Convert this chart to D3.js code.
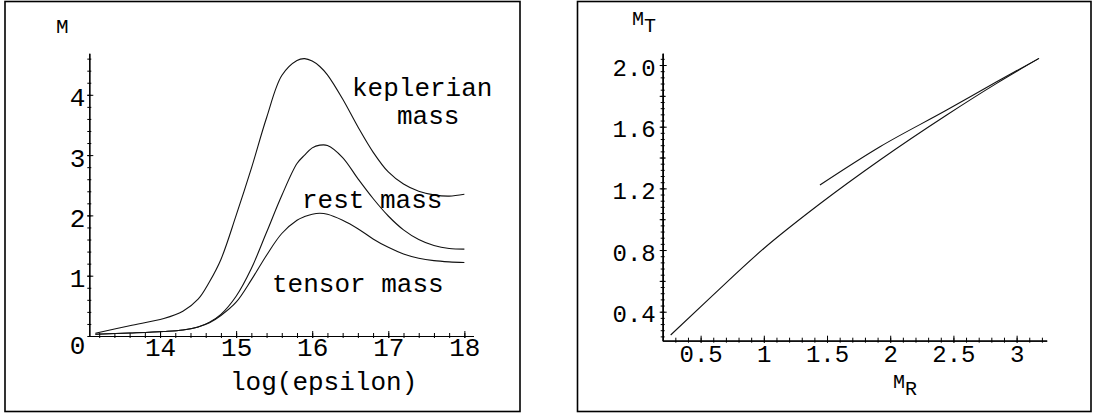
<!DOCTYPE html>
<html>
<head>
<meta charset="utf-8">
<script src="https://cdn.jsdelivr.net/npm/d3@7"></script>
<style>
body { margin: 0; background: #fff; }
text { font-family: "Liberation Mono", "Courier New", monospace; fill: #000; }
</style>
</head>
<body>
<div id="chart"></div>
<script>
// left panel: masses against log(epsilon)
var logEps     = [13.15, 13.6, 14.05, 14.3, 14.5, 14.65, 14.8, 15.0, 15.2, 15.4, 15.6, 15.8, 15.9, 16.0, 16.1, 16.2, 16.4, 16.6, 16.8, 17.0, 17.2, 17.4, 17.6, 17.8, 18.0];
var keplerMass = [0.045, 0.17, 0.29, 0.41, 0.61, 0.90, 1.27, 2.0, 2.78, 3.62, 4.32, 4.57, 4.60, 4.56, 4.47, 4.33, 3.93, 3.47, 3.05, 2.72, 2.52, 2.40, 2.34, 2.32, 2.35];
var restMass   = [0.03, 0.05, 0.075, 0.10, 0.15, 0.23, 0.36, 0.66, 1.12, 1.72, 2.33, 2.86, 3.0, 3.12, 3.165, 3.16, 2.96, 2.61, 2.28, 1.99, 1.76, 1.60, 1.50, 1.45, 1.44];
var tensorMass = [0.03, 0.05, 0.075, 0.10, 0.15, 0.22, 0.34, 0.56, 0.93, 1.34, 1.70, 1.92, 1.98, 2.02, 2.035, 2.02, 1.92, 1.78, 1.61, 1.47, 1.36, 1.29, 1.25, 1.23, 1.22];
var epsTicks  = [14, 15, 16, 17, 18];
var massTicks = [0, 1, 2, 3, 4];

// right panel: tensor mass against rest mass (two branches)
var lowR = [0.263, 0.575, 1.0, 1.444, 1.919, 2.447, 2.842, 3.177];
var lowT = [0.249, 0.49, 0.81, 1.10, 1.384, 1.676, 1.881, 2.043];
var upR  = [1.444, 1.919, 2.447, 2.842, 3.177];
var upT  = [1.222, 1.47, 1.708, 1.892, 2.043];
var mrTicks = [0.5, 1, 1.5, 2, 2.5, 3];
var mtTicks = [0.4, 0.8, 1.2, 1.6, 2.0];

var svg = d3.select("#chart").append("svg")
    .attr("width", 1093)
    .attr("height", 415);

// frames
svg.append("rect").attr("x", 5).attr("y", 1.5).attr("width", 515).attr("height", 410)
    .attr("fill", "none").attr("stroke", "#000").attr("stroke-width", 1.6);
svg.append("rect").attr("x", 577.5).attr("y", 1.5).attr("width", 513.5).attr("height", 410)
    .attr("fill", "none").attr("stroke", "#000").attr("stroke-width", 1.6);

// axis helper: maple style ticks crossing the axis line
function drawAxis(g, axis, lo, hi, vertical, fontSize) {
  g.call(axis);
  g.attr("font-family", null).attr("font-size", fontSize);
  g.selectAll(".tick line").each(function() {
    if (vertical) d3.select(this).attr("x1", -lo).attr("x2", hi);
    else d3.select(this).attr("y1", lo).attr("y2", -hi);
  });
  g.select(".domain").attr("stroke-width", 1.2);
}

// ---------- left panel ----------
var x1 = d3.scaleLinear().domain([13.07, 18.12]).range([89.3, 473.5]);
var y1 = d3.scaleLinear().domain([0, 4.69]).range([336, 53.2]);

var gx1m = svg.append("g").attr("transform", "translate(0,336)");
drawAxis(gx1m, d3.axisBottom(x1).tickValues(d3.range(13.2, 18.1, 0.2)).tickSizeOuter(0).tickFormat(""), 2, 3, false, 26);
var gx1 = svg.append("g").attr("transform", "translate(0,336)");
drawAxis(gx1, d3.axisBottom(x1).tickValues(epsTicks).tickSizeOuter(0).tickFormat(d3.format("d")), 2, 5, false, 26);
gx1.selectAll("text").attr("y", 20).attr("dy", 0);

var gy1m = svg.append("g").attr("transform", "translate(89.3,0)");
drawAxis(gy1m, d3.axisLeft(y1).tickValues(d3.range(0.2, 4.69, 0.2)).tickSizeOuter(0).tickFormat(""), 2, 2, true, 26);
var gy1 = svg.append("g").attr("transform", "translate(89.3,0)");
drawAxis(gy1, d3.axisLeft(y1).tickValues(massTicks).tickSizeOuter(0).tickFormat(d3.format("d")), 2, 4, true, 26);
gy1.selectAll("text").attr("x", -4).attr("dy", 0)
    .attr("y", function(d) { return d === 0 ? 17 : 11; });

var line1 = function(ys) {
  return d3.line()
    .x(function(d, i) { return x1(logEps[i]); })
    .y(function(d) { return y1(d); })
    .curve(d3.curveCatmullRom.alpha(0.5))(ys);
};
[keplerMass, restMass, tensorMass].forEach(function(s) {
  svg.append("path").attr("d", line1(s))
      .attr("fill", "none").attr("stroke", "#111").attr("stroke-width", 1.1);
});

svg.append("text").attr("x", 56).attr("y", 33).attr("font-size", 21).text("M");
svg.append("text").attr("x", 230).attr("y", 390).attr("font-size", 26).text("log(epsilon)");
svg.append("text").attr("x", 352).attr("y", 96).attr("font-size", 26).text("keplerian");
svg.append("text").attr("x", 397).attr("y", 124).attr("font-size", 26).text("mass");
svg.append("text").attr("x", 302).attr("y", 208).attr("font-size", 26).text("rest mass");
svg.append("text").attr("x", 272).attr("y", 292).attr("font-size", 26).text("tensor mass");

// ---------- right panel ----------
var x2 = d3.scaleLinear().domain([0.2, 3.238]).range([662.7, 1046.7]);
var y2 = d3.scaleLinear().domain([0.212, 2.076]).range([340.7, 53.3]);

var gx2m = svg.append("g").attr("transform", "translate(0,340.7)");
drawAxis(gx2m, d3.axisBottom(x2).tickValues(d3.range(0.3, 3.24, 0.1)).tickSizeOuter(0).tickFormat(""), 2, 3, false, 24);
var gx2 = svg.append("g").attr("transform", "translate(0,340.7)");
drawAxis(gx2, d3.axisBottom(x2).tickValues(mrTicks).tickSizeOuter(0).tickFormat(function(d) { return String(d); }), 2, 5, false, 24);
gx2.selectAll("text").attr("y", 21).attr("dy", 0);

var gy2m = svg.append("g").attr("transform", "translate(662.7,0)");
drawAxis(gy2m, d3.axisLeft(y2).tickValues(d3.range(0.24, 2.07, 0.04)).tickSizeOuter(0).tickFormat(""), 2, 2, true, 24);
var gy2d = svg.append("g").attr("transform", "translate(662.7,0)");
drawAxis(gy2d, d3.axisLeft(y2).tickValues([0.6, 1.0, 1.4, 1.8]).tickSizeOuter(0).tickFormat(""), 3, 3, true, 24);
var gy2 = svg.append("g").attr("transform", "translate(662.7,0)");
drawAxis(gy2, d3.axisLeft(y2).tickValues(mtTicks).tickSizeOuter(0).tickFormat(d3.format(".1f")), 3, 4, true, 24);
gy2.selectAll("text").attr("x", -7).attr("dy", 0).attr("y", 10);

var line2 = d3.line()
    .x(function(d) { return x2(d[0]); })
    .y(function(d) { return y2(d[1]); })
    .curve(d3.curveMonotoneX);
svg.append("path").attr("d", line2(d3.zip(lowR, lowT)))
    .attr("fill", "none").attr("stroke", "#111").attr("stroke-width", 1.1);
svg.append("path").attr("d", line2(d3.zip(upR, upT)))
    .attr("fill", "none").attr("stroke", "#111").attr("stroke-width", 1.1);

var mt = svg.append("text").attr("x", 632).attr("y", 25).attr("font-size", 20);
mt.append("tspan").text("M");
mt.append("tspan").attr("dy", 7).text("T");
var mr = svg.append("text").attr("x", 893).attr("y", 388).attr("font-size", 20);
mr.append("tspan").text("M");
mr.append("tspan").attr("dy", 7).text("R");
</script>
</body>
</html>
